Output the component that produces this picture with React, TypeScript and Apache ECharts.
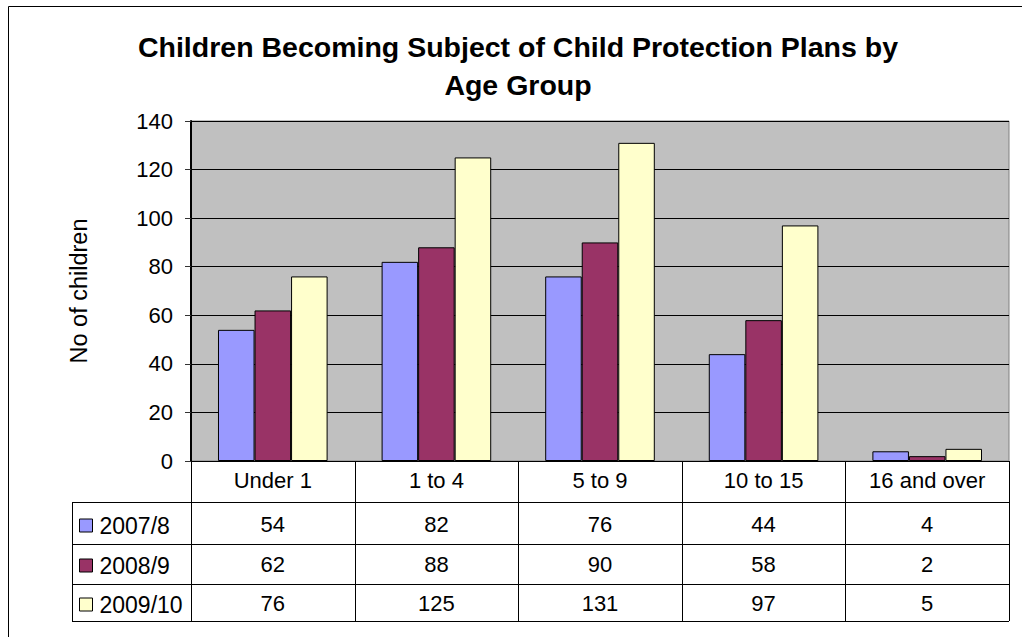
import React, { useEffect, useRef } from "react";
import * as echarts from "echarts";

const categories = ["Under 1", "1 to 4", "5 to 9", "10 to 15", "16 and over"];
const seriesNames = ["2007/8", "2008/9", "2009/10"];
const values2007 = [54, 82, 76, 44, 4];
const values2008 = [62, 88, 90, 58, 2];
const values2009 = [76, 125, 131, 97, 5];
const seriesColors = ["#9999FF", "#993366", "#FFFFCC"];
const titleText = "Children Becoming Subject of Child Protection Plans by\nAge Group";
const yAxisName = "No of children";

const FONT = "'Liberation Sans', Arial, sans-serif";

export default function App() {
  const ref = useRef<HTMLDivElement>(null);
  useEffect(() => {
    if (!ref.current) return;
    const chart = echarts.init(ref.current, null, { renderer: "svg" });
    const W = 1022, H = 637;
    const L = 191, R = 1009, T = 121, B = 461;
    const rowLines = [502, 544, 584, 621];
    const tableLeft = 72;
    const allValues = [values2007, values2008, values2009];
    const catW = (R - L) / categories.length;

    const graphic: any[] = [];
    graphic.push({
      type: "rect",
      shape: { x: 8.5, y: 6.5, width: 1100, height: 700 },
      style: { fill: "none", stroke: "#000", lineWidth: 1 },
      silent: true,
    });
    rowLines.forEach((y) => {
      graphic.push({
        type: "line",
        shape: { x1: tableLeft, y1: y + 0.5, x2: R, y2: y + 0.5 },
        style: { stroke: "#000", lineWidth: 1 },
      });
    });
    graphic.push({
      type: "line",
      shape: { x1: tableLeft + 0.5, y1: rowLines[0], x2: tableLeft + 0.5, y2: rowLines[3] },
      style: { stroke: "#000", lineWidth: 1 },
    });
    for (let i = 0; i <= categories.length; i++) {
      const x = Math.round(L + i * catW) + 0.5;
      graphic.push({
        type: "line",
        shape: { x1: x, y1: B, x2: x, y2: rowLines[3] },
        style: { stroke: "#000", lineWidth: 1 },
      });
    }

    const rowOffsets = [44, 84, 123];
    const valueAxes = allValues.map((vals, i) => ({
      type: "category",
      gridIndex: 0,
      position: "bottom",
      offset: rowOffsets[i],
      data: vals.map((v) => String(v)),
      axisLine: { show: false },
      axisTick: { show: false },
      splitLine: { show: false },
      axisLabel: { color: "#000", fontSize: 22, fontFamily: FONT, margin: 8, interval: 0 },
    }));

    const legendTops = [514, 554, 593];
    const legends = seriesNames.map((n, i) => ({
      data: [n],
      left: 79,
      top: legendTops[i],
      orient: "vertical",
      icon: "rect",
      itemWidth: 13,
      itemHeight: 13,
      itemGap: 0,
      padding: 0,
      selectedMode: false,
      textStyle: {
        color: "#000",
        fontSize: 23,
        fontFamily: FONT,
        lineHeight: 23,
        verticalAlign: "middle",
        padding: [0, 0, 0, 2],
      },
      itemStyle: { borderColor: "#000", borderWidth: 1 },
    }));

    chart.setOption({
      animation: false,
      backgroundColor: "#fff",
      title: {
        text: titleText,
        left: 518,
        top: 28,
        textAlign: "center",
        padding: 0,
        textStyle: { fontSize: 28.5, fontWeight: "bold", fontFamily: FONT, color: "#000", lineHeight: 38 },
      },
      legend: legends,
      grid: {
        left: L,
        right: W - R,
        top: T,
        bottom: H - B,
        show: true,
        backgroundColor: "#C0C0C0",
        borderColor: "#808080",
        borderWidth: 1,
      },
      xAxis: [
        {
          type: "category",
          data: categories,
          axisLine: { lineStyle: { color: "#000", width: 1 } },
          axisTick: { show: false },
          axisLabel: { color: "#000", fontSize: 22, fontFamily: FONT, margin: 8, interval: 0 },
        },
        ...valueAxes,
      ],
      yAxis: {
        type: "value",
        min: 0,
        max: 140,
        interval: 20,
        name: yAxisName,
        nameLocation: "middle",
        nameGap: 100,
        nameTextStyle: { color: "#000", fontSize: 23.5, fontFamily: FONT },
        axisLine: { show: true, lineStyle: { color: "#000", width: 2 } },
        axisTick: { show: true, length: 6, lineStyle: { color: "#333" } },
        axisLabel: { color: "#000", fontSize: 22, fontFamily: FONT, margin: 18 },
        splitLine: { lineStyle: { color: "#000", width: 1 } },
      },
      series: allValues.map((vals, i) => ({
        type: "bar",
        name: seriesNames[i],
        data: vals,
        xAxisIndex: 0,
        barGap: "0%",
        barCategoryGap: "33%",
        itemStyle: { color: seriesColors[i], borderColor: "#000", borderWidth: 1 },
      })),
      graphic,
    });
    return () => chart.dispose();
  }, []);
  return (
    <div
      ref={ref}
      style={{ position: "fixed", left: 0, top: 0, width: 1022, height: 637 }}
    />
  );
}
